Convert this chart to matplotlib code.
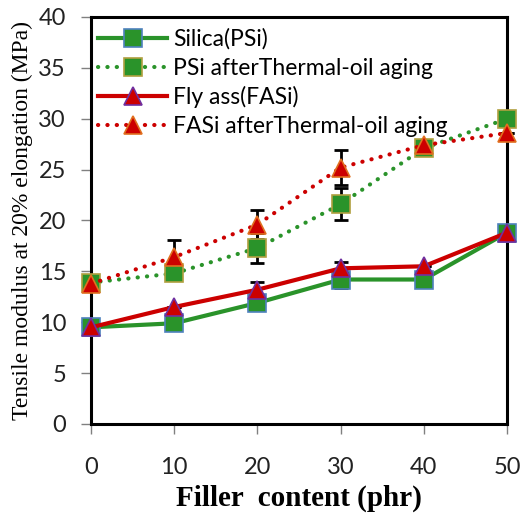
import matplotlib.pyplot as plt

# filler content (phr)
filler = [0, 10, 20, 30, 40, 50]

# tensile modulus at 20% elongation (MPa)
psi = [9.5, 9.9, 11.9, 14.2, 14.2, 18.8]
psi_aged = [13.9, 14.8, 17.3, 21.6, 27.1, 30.0]
fasi = [9.5, 11.5, 13.2, 15.3, 15.5, 18.8]
fasi_aged = [13.8, 16.4, 19.6, 25.2, 27.4, 28.6]

# error bars (only the ones visible in the picture)
psi_err = [0, 0, 0, 0.8, 0, 0]
psi_aged_err = [0, 0, 1.5, 1.6, 0, 0]
fasi_err = [0, 0, 0.8, 0.6, 0, 0]
fasi_aged_err = [0, 1.7, 1.4, 1.7, 0, 0]

green = '#2A932A'
red = '#CC0000'
dots = (0, (0.05, 2.2))

fig = plt.figure(figsize=(5.24, 5.15), dpi=100)
ax = fig.add_axes([0.1737, 0.1767, 0.7939, 0.7903])

def draw(y, err, color, ls, marker, edge, label):
    ax.errorbar(filler, y, yerr=err, fmt='none', ecolor='black',
                elinewidth=2, capsize=5, capthick=2, zorder=2)
    ax.plot(filler, y, color=color, ls=ls, lw=3, marker=marker,
            markersize=13, markerfacecolor=color if marker == 's' else red,
            markeredgecolor=edge, markeredgewidth=1.2, label=label,
            dash_capstyle='round', zorder=3)

draw(psi, psi_err, green, '-', 's', '#4F81BD', 'Silica(PSi)')
draw(psi_aged, psi_aged_err, green, dots, 's', '#B0A040', 'PSi afterThermal-oil aging')
draw(fasi, fasi_err, red, '-', '^', '#7030A0', 'Fly ass(FASi)')
draw(fasi_aged, fasi_aged_err, red, dots, '^', '#E07020', 'FASi afterThermal-oil aging')

ax.set_xlim(0, 50)
ax.set_ylim(0, 40)
ax.set_xticks(filler)
ax.set_yticks(range(0, 41, 5))
ax.tick_params(direction='out', length=7, width=1, color='gray',
               labelsize=17)
ax.tick_params(axis='y', pad=11)
ax.tick_params(axis='x', pad=17)
for lbl in ax.get_xticklabels() + ax.get_yticklabels():
    lbl.set_family('Lato')
    lbl.set_color('#222222')
for s in ax.spines.values():
    s.set_linewidth(2.2)
    s.set_color('black')

ax.set_xlabel('Filler  content (phr)', family='Liberation Serif',
              fontweight='bold', fontsize=21)
ax.xaxis.set_label_coords(0.5, -0.15)
ax.set_ylabel('Tensile modulus at 20% elongation (MPa)',
              family='Liberation Serif', fontsize=17, labelpad=4)

for line in ax.get_lines():
    line.set_clip_on(False)

leg = ax.legend(loc='upper left', frameon=False,
                prop={'family': 'Lato', 'size': 16.5}, handlelength=3.0,
                handletextpad=0.25, labelspacing=0.33,
                borderaxespad=0.1, bbox_to_anchor=(-0.01, 1.0))

fig.savefig('out.png', dpi=100)
